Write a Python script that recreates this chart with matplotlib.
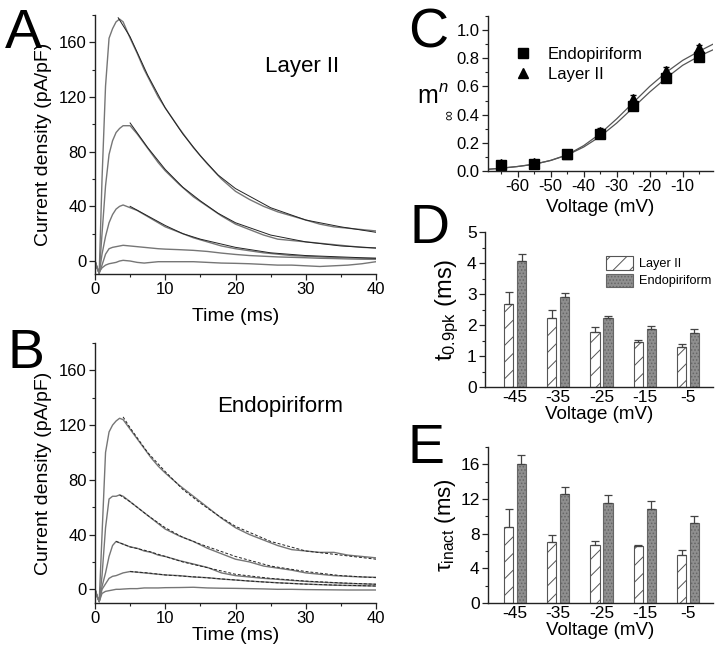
import matplotlib
matplotlib.use('Agg')
import matplotlib.pyplot as plt
from matplotlib.ticker import MultipleLocator, FixedLocator
from matplotlib.patches import Patch
from matplotlib.lines import Line2D

plt.rcParams['font.family'] = ['Liberation Sans', 'DejaVu Sans']
plt.rcParams['axes.unicode_minus'] = False
plt.rcParams['hatch.linewidth'] = 0.7
plt.rcParams['mathtext.fontset'] = 'custom'
plt.rcParams['mathtext.rm'] = 'Liberation Sans'
plt.rcParams['mathtext.it'] = 'Liberation Sans:italic'

# ---------------- data ----------------
t_trace = [0, 0.3, 0.6, 1.0, 1.5, 2.0, 2.5, 3.0, 3.5, 4.0, 5, 6, 7, 8, 9, 10,
           12, 14, 16, 18, 20, 22, 24, 26, 28, 30, 32, 34, 36, 38, 40]

# Panel A (Layer II) current traces, pA/pF
A1 = [0, -5, -9, 60, 128, 163, 170, 175, 177, 175, 163, 152, 140, 130, 120, 112,
      97, 83, 71, 60, 51, 45, 40, 36, 33, 30, 27, 25, 24, 23, 22]
A2 = [0, -5, -9, 20, 55, 78, 88, 94, 97, 99, 99, 93, 86, 79, 72, 66,
      56, 47, 40, 33, 27, 23, 19, 16, 15, 14, 13, 12, 11, 10, 9.5]
A3 = [0, -5, -9, 5, 18, 28, 34, 38, 40, 41, 39, 37, 34, 31, 28, 25,
      21, 17, 14, 11, 9, 7.5, 6, 5, 4, 3.5, 3, 2.5, 2.2, 2, 2]
A4 = [0, -5, -9, -3, 5, 9, 10, 10.5, 11, 11.5, 11, 10.5, 10, 9.5, 9, 8.7,
      8.3, 7.8, 7, 5.8, 4.8, 4, 3.5, 3, 2.7, 2.4, 2.0, 1.8, 1.5, 1.3, 1.2]
A5 = [0, -5, -8, -5, -3, -2, -1.5, -1, 0, 0.5, 0, -1, -1.5, -1, -0.5, -0.5,
      -0.5, -0.5, -1, -1.5, -1.7, -2, -2.5, -3, -3, -3.5, -4, -3.5, -3, -2, -0.5]

# Panel A fits
tfitA1 = [3.3, 5, 7.5, 10, 12.5, 15, 17.5, 20, 25, 30, 35, 40]
fitA1 = [178, 164, 136, 112, 93, 77, 63, 53, 39, 30, 25, 21]
tfitA2 = [5, 7.5, 10, 12.5, 15, 17.5, 20, 25, 30, 35, 40]
fitA2 = [101, 83, 67, 54, 44, 35, 28, 19, 14, 11, 9.5]
tfitA3 = [5, 7.5, 10, 12.5, 15, 20, 25, 30, 35, 40]
fitA3 = [40, 33, 26, 20, 16, 10, 6, 4, 3, 2]

# Panel B (Endopiriform) current traces, pA/pF
B1 = [0, -5, -9, 40, 100, 115, 120, 123, 125, 124, 117, 110, 103, 96, 90, 85,
      76, 68, 60, 52, 45, 40, 36, 32, 29, 28, 27, 27, 25, 24, 23]
B2 = [0, -5, -9, 10, 45, 66, 68, 68, 69, 68, 64, 60, 56, 52, 48, 44,
      39, 35, 30, 26, 22, 20, 17, 15.5, 14, 12, 11, 10, 9.5, 9, 8.8]
B3 = [0, -5, -9, 2, 12, 24, 32, 35, 34, 33, 31, 30, 28, 27, 25, 24,
      21, 18.5, 16, 12, 10, 9, 8, 7.3, 6.5, 5.8, 5.2, 4.8, 4.3, 4, 3.7]
B4 = [0, -5, -9, 0, 4, 8, 9.5, 10, 11, 12, 13, 12.5, 12, 11.5, 11, 10.5,
      10, 9, 8.5, 7.5, 6.8, 6, 5.4, 4.8, 4.3, 3.8, 3.4, 3, 2.8, 2.6, 2.4]
B5 = [0, -5, -9, -3, -1.5, -1, -0.5, 0, 0, 0.2, 0.5, 0.5, 1, 1, 1, 1.2,
      1.3, 1.5, 1, 0.8, 0.7, 0.5, 0.3, 0, 0, -0.2, -0.3, -0.4, -0.5, -0.5, -0.5]

# Panel B fits (dashed)
tfitB1 = [4, 5, 7.5, 10, 12.5, 15, 17.5, 20, 25, 30, 35, 40]
fitB1 = [126, 118, 100, 86, 73, 63, 54, 46, 35, 28, 25, 22]
tfitB2 = [3.5, 5, 7.5, 10, 12.5, 15, 20, 25, 30, 35, 40]
fitB2 = [69, 64, 54, 45, 38, 33, 24, 17, 13, 10, 8.5]
tfitB3 = [3, 5, 7.5, 10, 12.5, 15, 20, 25, 30, 35, 40]
fitB3 = [35, 31, 28, 24, 20, 17, 11, 8, 6, 4.7, 3.7]
tfitB4 = [5, 7.5, 10, 15, 20, 25, 30, 35, 40]
fitB4 = [13, 12, 10.5, 8.8, 6.8, 5, 3.8, 3, 2.4]

# Panel C: steady-state activation
V_pts = [-65, -55, -45, -35, -25, -15, -5]
endo_m = [0.045, 0.05, 0.12, 0.26, 0.46, 0.66, 0.81]
endo_err = [0.02, 0.015, 0.02, 0.02, 0.025, 0.03, 0.03]
layer_m = [0.05, 0.055, 0.12, 0.28, 0.51, 0.71, 0.87]
layer_err = [0.02, 0.015, 0.02, 0.025, 0.03, 0.03, 0.025]
V_curve = [-69, -65, -60, -55, -50, -45, -40, -35, -30, -25, -20, -15, -10, -5, -0.8]
layer_curve = [0.012, 0.02, 0.032, 0.048, 0.075, 0.115, 0.18, 0.265, 0.37, 0.485,
               0.60, 0.70, 0.785, 0.85, 0.90]
endo_curve = [0.012, 0.02, 0.032, 0.048, 0.075, 0.113, 0.17, 0.245, 0.34, 0.45,
              0.56, 0.66, 0.75, 0.815, 0.86]

# Panels D, E
volt_labels = ['-45', '-35', '-25', '-15', '-5']
t09_layer = [2.67, 2.24, 1.77, 1.44, 1.29]
t09_layer_top = [3.07, 2.47, 1.92, 1.53, 1.39]
t09_endo = [4.06, 2.89, 2.22, 1.88, 1.74]
t09_endo_top = [4.30, 3.02, 2.30, 1.96, 1.86]
tau_layer = [8.8, 7.07, 6.72, 6.56, 5.56]
tau_layer_top = [10.9, 7.8, 7.18, 6.72, 6.06]
tau_endo = [16.0, 12.55, 11.58, 10.8, 9.19]
tau_endo_top = [17.1, 13.4, 12.5, 11.8, 10.08]

# ---------------- figure ----------------
fig = plt.figure(figsize=(7.2, 6.5), dpi=100)
W, H = 720.0, 650.0

def ax_px(l, t, r, b):
    return fig.add_axes([l / W, 1 - b / H, (r - l) / W, (b - t) / H])

spine_col = '#222222'
trace_col = '#767676'

def style(ax, fs=11.5):
    for s in ['top', 'right']:
        ax.spines[s].set_visible(False)
    for s in ['left', 'bottom']:
        ax.spines[s].set_color(spine_col)
        ax.spines[s].set_linewidth(1.0)
    ax.tick_params(which='major', direction='out', length=4, width=0.9,
                   labelsize=fs, color=spine_col, pad=2)
    ax.tick_params(which='minor', direction='out', length=2.2, width=0.8, color=spine_col)

# Panel A
axA = ax_px(95, 15, 376, 274)
for tr in [A1, A2, A3, A4, A5]:
    axA.plot(t_trace, tr, color=trace_col, lw=1.0)
for tf, f in [(tfitA1, fitA1), (tfitA2, fitA2), (tfitA3, fitA3)]:
    axA.plot(tf, f, color='#222222', lw=0.7)
axA.set_xlim(0, 40)
axA.set_ylim(-9.5, 180)
axA.xaxis.set_major_locator(MultipleLocator(10))
axA.xaxis.set_minor_locator(MultipleLocator(5))
axA.yaxis.set_major_locator(FixedLocator([0, 40, 80, 120, 160]))
axA.yaxis.set_minor_locator(FixedLocator([20, 60, 100, 140, 180]))
style(axA, 12)
axA.set_xlabel('Time (ms)', fontsize=14, labelpad=8)
axA.set_ylabel('Current density (pA/pF)', fontsize=14, labelpad=5)
axA.text(0.737, 0.80, 'Layer II', transform=axA.transAxes, fontsize=16,
         ha='center', va='center')

# Panel B
axB = ax_px(95, 343, 376, 603)
for tr in [B1, B2, B3, B4, B5]:
    axB.plot(t_trace, tr, color=trace_col, lw=1.0)
for tf, f in [(tfitB1, fitB1), (tfitB2, fitB2), (tfitB3, fitB3), (tfitB4, fitB4)]:
    axB.plot(tf, f, color='#222222', lw=0.7, ls=(0, (3, 2)))
axB.set_xlim(0, 40)
axB.set_ylim(-10, 180)
axB.xaxis.set_major_locator(MultipleLocator(10))
axB.xaxis.set_minor_locator(MultipleLocator(5))
axB.yaxis.set_major_locator(FixedLocator([0, 40, 80, 120, 160]))
axB.yaxis.set_minor_locator(FixedLocator([20, 60, 100, 140, 180]))
style(axB, 12)
axB.set_xlabel('Time (ms)', fontsize=14, labelpad=0.5)
axB.set_ylabel('Current density (pA/pF)', fontsize=14, labelpad=5)
axB.text(0.658, 0.754, 'Endopiriform', transform=axB.transAxes, fontsize=16,
         ha='center', va='center')

# Panel C
axC = ax_px(488, 16, 713, 171)
axC.plot(V_curve, layer_curve, color='#555555', lw=0.9)
axC.plot(V_curve, endo_curve, color='#555555', lw=0.9)
axC.errorbar(V_pts, endo_m, yerr=endo_err, fmt='s', color='black', ms=6.5,
             capsize=2, elinewidth=0.8)
axC.errorbar(V_pts, layer_m, yerr=layer_err, fmt='^', color='black', ms=7.5,
             capsize=2, elinewidth=0.8)
axC.set_xlim(-69, -0.8)
axC.set_ylim(0, 1.1)
axC.xaxis.set_major_locator(MultipleLocator(10))
axC.xaxis.set_minor_locator(MultipleLocator(5))
axC.yaxis.set_major_locator(MultipleLocator(0.2))
axC.yaxis.set_minor_locator(MultipleLocator(0.1))
axC.yaxis.set_major_formatter(matplotlib.ticker.FormatStrFormatter('%.1f'))
style(axC, 12)
axC.set_xlabel('Voltage (mV)', fontsize=13.5, labelpad=3)
hC = [Line2D([], [], ls='none', marker='s', color='black', ms=6.5),
      Line2D([], [], ls='none', marker='^', color='black', ms=7.5)]
axC.legend(handles=hC, labels=['Endopiriform', 'Layer II'], loc='upper left',
           bbox_to_anchor=(0.08, 0.845), frameon=False, fontsize=12,
           handlelength=1.2, handletextpad=0.9, borderaxespad=0, labelspacing=0.3)
fig.text(417 / W, 1 - 103 / H, 'm', fontsize=18, ha='left', va='baseline')
fig.text(439 / W, 1 - 92 / H, 'n', fontsize=12, style='italic', ha='left', va='baseline')
fig.text(449 / W, 1 - 115 / H, '\u221e', fontsize=10, rotation=90, ha='center', va='center')

# bar helpers
pos = list(range(len(volt_labels)))
off = 0.15
bw = 0.21
layer_kw = dict(facecolor='white', edgecolor='#555555', hatch='//', linewidth=0.8)
endo_kw = dict(facecolor='#8f8f8f', edgecolor='#666666', hatch='.....', linewidth=0.8)

def bars(ax, lay, lay_top, endo, endo_top):
    xl = [p - off for p in pos]
    xe = [p + off for p in pos]
    ax.bar(xl, lay, width=bw, **layer_kw)
    ax.bar(xe, endo, width=bw, **endo_kw)
    ax.errorbar(xl, lay, yerr=[[0] * len(lay), [a - b for a, b in zip(lay_top, lay)]],
                fmt='none', ecolor='#444444', elinewidth=0.9, capsize=3, capthick=0.9)
    ax.errorbar(xe, endo, yerr=[[0] * len(endo), [a - b for a, b in zip(endo_top, endo)]],
                fmt='none', ecolor='#444444', elinewidth=0.9, capsize=3, capthick=0.9)
    ax.set_xticks(pos)
    ax.set_xticklabels(volt_labels)

# Panel D
axD = ax_px(485, 232, 713, 387)
bars(axD, t09_layer, t09_layer_top, t09_endo, t09_endo_top)
axD.set_xlim(-0.694, 4.578)
axD.set_ylim(0, 5)
axD.yaxis.set_major_locator(MultipleLocator(1))
axD.yaxis.set_minor_locator(MultipleLocator(0.5))
style(axD, 12.5)
axD.tick_params(axis='x', which='major', length=0)
axD.set_xlabel('Voltage (mV)', fontsize=13.5, labelpad=1)
axD.set_ylabel(r'$\mathregular{t_{0.9pk}}$ (ms)', fontsize=17, labelpad=4)
axD.legend(handles=[Patch(**layer_kw), Patch(**endo_kw)],
           labels=['Layer II', 'Endopiriform'], loc='upper left',
           bbox_to_anchor=(0.51, 0.875), frameon=False, fontsize=9.2,
           handlelength=2.1, handleheight=1.2, handletextpad=0.45,
           borderaxespad=0, labelspacing=0.25)

# Panel E
axE = ax_px(488, 447, 713, 603)
bars(axE, tau_layer, tau_layer_top, tau_endo, tau_endo_top)
axE.set_xlim(-0.624, 4.578)
axE.set_ylim(0, 18)
axE.yaxis.set_major_locator(MultipleLocator(4))
axE.yaxis.set_minor_locator(MultipleLocator(2))
style(axE, 12.5)
axE.tick_params(axis='x', which='major', length=0)
axE.set_xlabel('Voltage (mV)', fontsize=13.5, labelpad=1)
axE.set_ylabel(r'$\mathregular{\tau_{inact}}$ (ms)', fontsize=16, labelpad=2)

# panel letters
for letter, x, y in [('A', 5, 8), ('B', 7, 328), ('C', 408, 7), ('D', 409, 203), ('E', 408, 423)]:
    fig.text(x / W, 1 - y / H, letter, fontsize=40, ha='left', va='top')

fig.savefig('out.png', dpi=100)
